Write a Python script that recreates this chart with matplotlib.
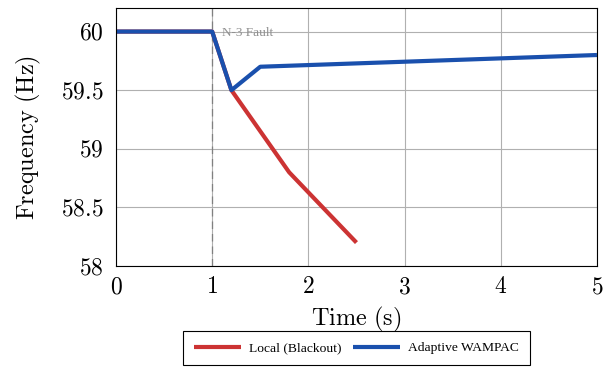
import matplotlib
matplotlib.use("Agg")
import matplotlib.pyplot as plt

# data
local_t = [0, 1, 1.2, 1.8, 2.5]
local_f = [60, 60, 59.5, 58.8, 58.2]
wampac_t = [0, 1, 1.2, 1.5, 5]
wampac_f = [60, 60, 59.5, 59.7, 59.8]
xticks = [0, 1, 2, 3, 4, 5]
yticks = [58, 58.5, 59, 59.5, 60]
ytick_labels = ["58", "58.5", "59", "59.5", "60"]
fault_t = 1

plt.rcParams["mathtext.fontset"] = "cm"
plt.rcParams["font.family"] = "serif"
plt.rcParams["font.serif"] = ["Liberation Serif", "DejaVu Serif"]

fig = plt.figure(figsize=(6.05, 3.69), dpi=100)
ax = fig.add_axes([0.1917, 0.279, 0.795, 0.699])

ax.grid(True, color="#b0b0b0", linewidth=0.8)
ax.set_axisbelow(True)
ax.axvline(fault_t, color="#808080", linestyle=(0, (6, 4)), linewidth=0.9)
ax.text(fault_t + 0.1, 59.985, "N-3 Fault", color="#909090", fontsize=9.5,
        va="center", ha="left")

ax.plot(local_t, local_f, color="#cc3333", linewidth=3, label="Local (Blackout)",
        solid_capstyle="butt")
ax.plot(wampac_t, wampac_f, color="#1a50ad", linewidth=3, label="Adaptive WAMPAC",
        solid_capstyle="butt")

ax.set_xlim(0, 5)
ax.set_ylim(58, 60.2)
ax.set_xticks(xticks)
ax.set_xticklabels(["$%d$" % v for v in xticks])
ax.set_yticks(yticks)
ax.set_yticklabels(["$%s$" % s for s in ytick_labels])
ax.tick_params(labelsize=17, length=0)
ax.tick_params(axis="x", pad=8)
ax.tick_params(axis="y", pad=9)
for s in ax.spines.values():
    s.set_linewidth(0.8)

ax.set_xlabel(r"$\mathrm{Time\ (s)}$", fontsize=17.5, labelpad=5)
ax.set_ylabel(r"$\mathrm{Frequency\ (Hz)}$", fontsize=17.5, labelpad=13)

leg = ax.legend(loc="upper center", bbox_to_anchor=(0.5, -0.252), ncol=2,
                fontsize=9.7, fancybox=False, edgecolor="black", framealpha=1,
                handlelength=3.5, handletextpad=0.6, columnspacing=0.8,
                borderpad=0.8, borderaxespad=0)
leg.get_frame().set_linewidth(0.8)

fig.savefig("out.png", dpi=100)
